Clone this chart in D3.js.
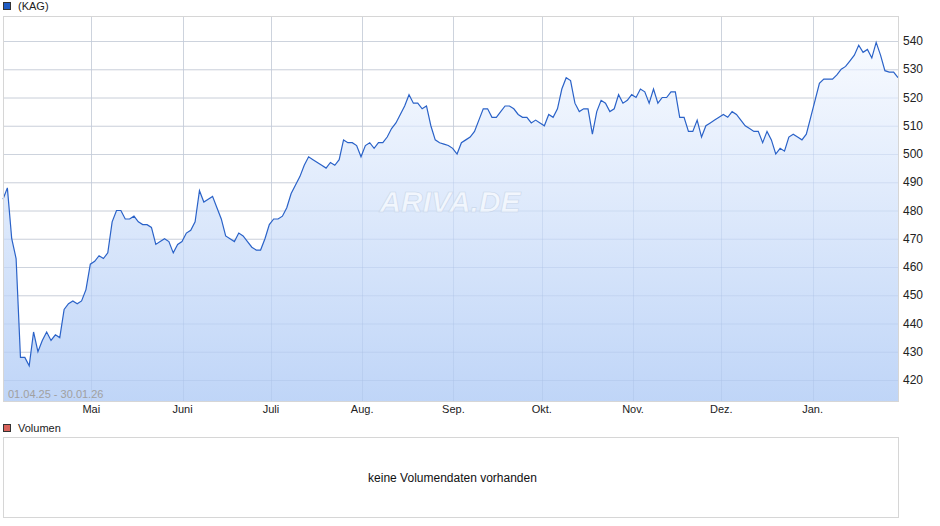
<!DOCTYPE html>
<html><head><meta charset="utf-8">
<script src="https://cdn.jsdelivr.net/npm/d3@7"></script>
<style>body{margin:0;background:#fff;font-family:"Liberation Sans",Arial,sans-serif}</style>
</head><body>
<script>
// price series, roughly one value per trading day, 01.04.25 - 30.01.26
const prices = [484,488,470,463,428,428,425,437,430,434,437,434,436,435,445,447,448,447,448,452,461,462,464,463,465,476,480,480,477,477,478,476,475,475,474,468,469,470,469,465,468,469,472,473,476,487,483,484,485,481,477,471,470,469,472,471,469,467,466,466,470,475,477,477,478,481,486,489,492,496,499,498,497,496,495,497,496,498,505,504,504,503,499,503,504,502,504,504,506,509,511,514,517,521,518,518,516,517,510,505,504,503.5,503,502,500,504,505,506,508,512,516,516,513,513,515,517,517,516,514,513,513,511,512,511,510,514,513,516,523,527,526,518,515,516,516,507,515,519,518,515,516,521,518,519,521,520,523,522,518,523,518,520,520,522,522,513,513,508,508,512,506,510,511,512,513,514,513,515,514,512,510,509,508,508,504,508,505,500,502,501,506,507,506,505,507,513,519,525,526.5,526.5,526.5,528,530,531,533,535,538.5,536,537,534,539.5,535,529.5,529,529,527];
const startDate = new Date(2025, 3, 1), endDate = new Date(2026, 0, 30);
const yTicks = [420,430,440,450,460,470,480,490,500,510,520,530,540];
const monthLabels = ["Mai","Juni","Juli","Aug.","Sep.","Okt.","Nov.","Dez.","Jan."];
const monthStarts = d3.range(4, 13).map(m => new Date(2025, m, 1));

const W = 940, H = 526;
const L = 3, R = 898, T = 16, B = 401;
const svg = d3.select("body").append("svg").attr("width", W).attr("height", H)
  .style("font-family", '"Liberation Sans",Arial,sans-serif').style("font-size", "12px");

const x = d3.scaleTime().domain([startDate, endDate]).range([L, R]);
const y = d3.scaleLinear().domain([420, 540]).range([380, 41]);
const dates = prices.map((p, i) => new Date(+startDate + i * (endDate - startDate) / (prices.length - 1)));
const data = prices.map((p, i) => ({d: dates[i], v: p}));

const defs = svg.append("defs");
const grad = defs.append("linearGradient").attr("id", "fill").attr("x1", 0).attr("y1", 0).attr("x2", 0).attr("y2", 1);
grad.append("stop").attr("offset", "0%").attr("stop-color", "#f7faff");
grad.append("stop").attr("offset", "100%").attr("stop-color", "#bcd3f7");

// grid
svg.append("g").selectAll("line").data(yTicks).join("line")
  .attr("x1", L).attr("x2", R).attr("y1", d => y(d) + .5).attr("y2", d => y(d) + .5)
  .attr("stroke", "#dcdcdc");
svg.append("g").selectAll("line").data(monthStarts).join("line")
  .attr("x1", d => Math.round(x(d)) + .5).attr("x2", d => Math.round(x(d)) + .5)
  .attr("y1", T).attr("y2", B).attr("stroke", "#dcdcdc");

// area + line
svg.append("path").datum(data).attr("fill", "url(#fill)").attr("fill-opacity", .95)
  .attr("d", d3.area().x(d => x(d.d)).y0(B).y1(d => y(d.v)));
// grid lines show faintly over area
svg.append("g").selectAll("line").data(yTicks).join("line")
  .attr("x1", L).attr("x2", R).attr("y1", d => y(d) + .5).attr("y2", d => y(d) + .5)
  .attr("stroke", "#9fb8e0").attr("stroke-opacity", .25);
svg.append("g").selectAll("line").data(monthStarts).join("line")
  .attr("x1", d => Math.round(x(d)) + .5).attr("x2", d => Math.round(x(d)) + .5)
  .attr("y1", T).attr("y2", B).attr("stroke", "#9fb8e0").attr("stroke-opacity", .25);

// watermark
svg.append("text").attr("x", 450).attr("y", 212).attr("text-anchor", "middle")
  .style("font-size", "30px").style("font-weight", "bold").style("font-style", "italic")
  .attr("fill", "#ffffff").attr("fill-opacity", .6).attr("stroke", "#c8d6ea").attr("stroke-width", .6)
  .text("ARIVA.DE");

svg.append("path").datum(data).attr("fill", "none").attr("stroke", "#2a62c8").attr("stroke-width", 1.2)
  .attr("d", d3.line().x(d => x(d.d)).y(d => y(d.v)));

// frame
svg.append("rect").attr("x", L + .5).attr("y", T + .5).attr("width", R - L).attr("height", B - T)
  .attr("fill", "none").attr("stroke", "#d6d6d6");

// axes labels
svg.append("g").selectAll("text").data(yTicks).join("text")
  .attr("x", 903).attr("y", d => y(d) + 4).attr("fill", "#222").text(d => d);
svg.append("g").selectAll("text").data(monthStarts).join("text")
  .attr("x", d => x(d)).attr("y", 413).attr("text-anchor", "middle").attr("fill", "#222")
  .style("font-size", "11px").text((d, i) => monthLabels[i]);
svg.append("text").attr("x", 8).attr("y", 398).attr("fill", "#a0a0a0").style("font-size", "11px")
  .text("01.04.25 - 30.01.26");

// legend
svg.append("rect").attr("x", 3.5).attr("y", 2.5).attr("width", 7).attr("height", 7)
  .attr("fill", "#1f5cc4").attr("stroke", "#333");
svg.append("text").attr("x", 18).attr("y", 10).attr("fill", "#222").style("font-size", "11px").text("(KAG)");

// volume panel
svg.append("rect").attr("x", 3.5).attr("y", 424.5).attr("width", 7).attr("height", 7)
  .attr("fill", "#d9625b").attr("stroke", "#333");
svg.append("text").attr("x", 18).attr("y", 432).attr("fill", "#222").style("font-size", "11px").text("Volumen");
svg.append("rect").attr("x", L + .5).attr("y", 437.5).attr("width", R - L).attr("height", 80)
  .attr("fill", "none").attr("stroke", "#d6d6d6");
svg.append("text").attr("x", (L + R) / 2 + 2).attr("y", 482).attr("text-anchor", "middle")
  .attr("fill", "#111").text("keine Volumendaten vorhanden");
</script>
</body></html>
